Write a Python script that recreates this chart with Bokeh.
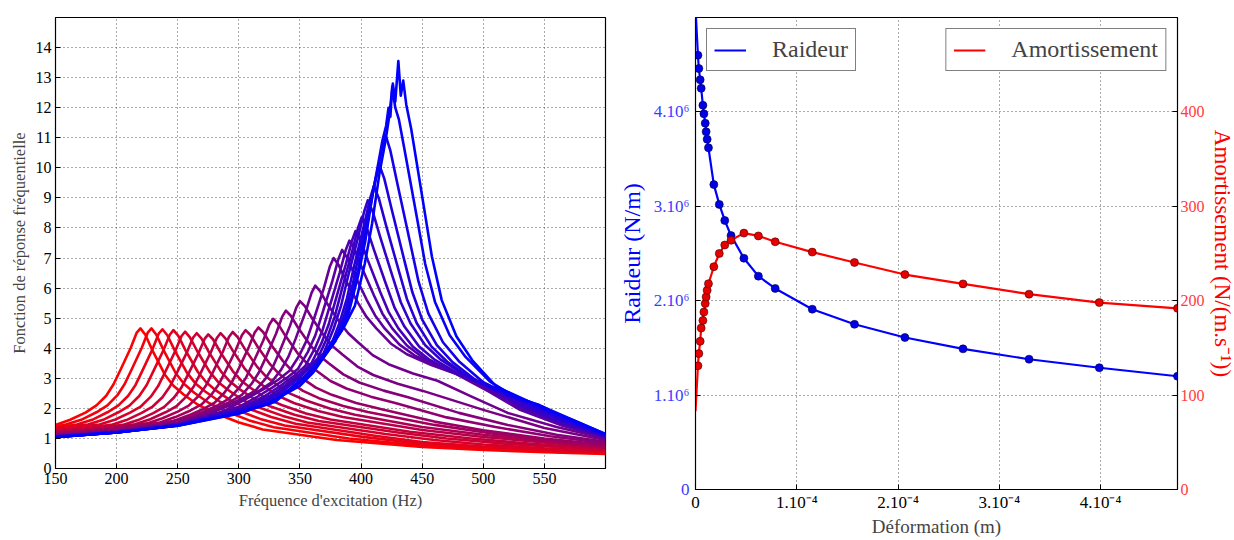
from bokeh.plotting import figure
from bokeh.models import Range1d, FixedTicker, LinearAxis, Legend, LegendItem
from bokeh.layouts import row
from bokeh.embed import file_html
from bokeh.resources import INLINE

# ---------------- Left chart : frequency response curves (red -> blue) ----------------
curve01_hz = [150, 162, 174.5, 183.5, 191.5, 197.5, 203.5, 211.5, 216.5, 219.5, 223.5, 229.5, 239.5, 246.5, 254.5, 266.5, 279.5, 299.5, 319.5, 380, 450, 500, 550, 600]
curve01_frf = [1.45, 1.62, 1.86, 2.10, 2.42, 2.80, 3.31, 4.01, 4.52, 4.66, 4.45, 3.91, 3.12, 2.75, 2.47, 2.12, 1.86, 1.54, 1.30, 0.95, 0.72, 0.62, 0.54, 0.48]
curve02_hz = [150, 158.5, 171, 183.5, 192.5, 200.5, 206.5, 212.5, 220.5, 225.5, 228.5, 232.5, 238.5, 248.5, 255.5, 263.5, 275.5, 288.5, 308.5, 328.5, 390, 450, 500, 550, 600]
curve02_frf = [1.40, 1.46, 1.62, 1.87, 2.10, 2.43, 2.80, 3.31, 4.01, 4.52, 4.66, 4.45, 3.93, 3.16, 2.80, 2.52, 2.18, 1.92, 1.60, 1.37, 1.0, 0.76, 0.65, 0.57, 0.51]
curve03_hz = [150, 167.5, 180, 192.5, 201.5, 209.5, 215.5, 221.5, 229.5, 234.5, 237.5, 241.5, 247.5, 257.5, 264.5, 272.5, 284.5, 297.5, 317.5, 337.5, 400, 450, 500, 550, 600]
curve03_frf = [1.36, 1.46, 1.62, 1.87, 2.10, 2.42, 2.78, 3.29, 3.98, 4.49, 4.63, 4.43, 3.93, 3.19, 2.83, 2.56, 2.22, 1.96, 1.65, 1.43, 1.06, 0.82, 0.69, 0.60, 0.54]
curve04_hz = [150, 176.5, 189, 201.5, 210.5, 218.5, 224.5, 230.5, 238.5, 243.5, 246.5, 250.5, 256.5, 266.5, 273.5, 281.5, 293.5, 306.5, 326.5, 346.5, 410, 450, 500, 550, 600]
curve04_frf = [1.33, 1.46, 1.62, 1.87, 2.09, 2.41, 2.77, 3.27, 3.95, 4.45, 4.60, 4.41, 3.92, 3.21, 2.86, 2.59, 2.26, 2.01, 1.71, 1.49, 1.1, 0.88, 0.73, 0.63, 0.56]
curve05_hz = [150, 186, 198.5, 211, 220, 228, 234, 240, 248, 253, 256, 260, 266, 276, 283, 291, 303, 316, 336, 356, 420, 460, 500, 550, 600]
curve05_frf = [1.30, 1.46, 1.62, 1.86, 2.07, 2.39, 2.74, 3.23, 3.91, 4.40, 4.55, 4.36, 3.90, 3.22, 2.88, 2.62, 2.28, 2.04, 1.75, 1.53, 1.15, 0.95, 0.80, 0.67, 0.59]
curve06_hz = [150, 170, 195.5, 208, 220.5, 229.5, 237.5, 243.5, 249.5, 257.5, 262.5, 265.5, 269.5, 275.5, 285.5, 292.5, 300.5, 312.5, 325.5, 345.5, 365.5, 430, 470, 520, 600]
curve06_frf = [1.27, 1.33, 1.45, 1.61, 1.85, 2.06, 2.37, 2.72, 3.20, 3.86, 4.35, 4.50, 4.32, 3.87, 3.22, 2.90, 2.64, 2.31, 2.07, 1.79, 1.58, 1.2, 1.0, 0.82, 0.62]
curve07_hz = [150, 180, 205, 217.5, 230, 239, 247, 253, 259, 267, 272, 275, 279, 285, 295, 302, 310, 322, 335, 355, 375, 440, 490, 540, 600]
curve07_frf = [1.24, 1.33, 1.45, 1.61, 1.84, 2.05, 2.36, 2.69, 3.17, 3.83, 4.31, 4.46, 4.29, 3.86, 3.24, 2.92, 2.67, 2.34, 2.11, 1.83, 1.63, 1.22, 1.0, 0.82, 0.65]
curve08_hz = [150, 185, 215, 227.5, 240, 249, 257, 263, 269, 277, 282, 285, 289, 295, 305, 312, 320, 332, 345, 365, 385, 450, 500, 550, 600]
curve08_frf = [1.21, 1.32, 1.47, 1.64, 1.87, 2.07, 2.39, 2.72, 3.20, 3.86, 4.34, 4.50, 4.33, 3.92, 3.31, 2.99, 2.75, 2.42, 2.18, 1.91, 1.71, 1.28, 1.05, 0.87, 0.68]
curve09_hz = [150, 190, 225, 237.5, 250, 259, 267, 273, 279, 287, 292, 295, 299, 305, 315, 322, 330, 342, 355, 375, 395, 450, 500, 550, 600]
curve09_frf = [1.18, 1.31, 1.50, 1.67, 1.89, 2.09, 2.41, 2.75, 3.22, 3.89, 4.38, 4.54, 4.37, 3.97, 3.38, 3.07, 2.82, 2.49, 2.26, 1.99, 1.79, 1.38, 1.12, 0.92, 0.71]
curve10_hz = [150, 195, 235.5, 248, 260.5, 269.5, 277.5, 283.5, 289.5, 297.5, 302.5, 305.5, 309.5, 315.5, 325.5, 332.5, 340.5, 352.5, 365.5, 385.5, 405.5, 460, 510, 555, 600]
curve10_frf = [1.16, 1.31, 1.53, 1.71, 1.93, 2.13, 2.45, 2.79, 3.27, 3.94, 4.43, 4.60, 4.44, 4.04, 3.47, 3.16, 2.91, 2.58, 2.34, 2.08, 1.88, 1.45, 1.15, 0.93, 0.75]
curve11_hz = [150, 200, 246, 258.5, 271, 280, 288, 294, 300, 308, 313, 316, 320, 326, 336, 343, 351, 363, 376, 396, 416, 460, 500, 550, 600]
curve11_frf = [1.14, 1.31, 1.57, 1.76, 1.98, 2.18, 2.51, 2.85, 3.33, 4.02, 4.52, 4.69, 4.53, 4.14, 3.58, 3.27, 3.02, 2.69, 2.45, 2.18, 1.98, 1.56, 1.27, 1.0, 0.79]
curve12_hz = [150, 200, 230, 258, 270.5, 283, 292, 300, 306, 312, 320, 325, 328, 332, 338, 348, 355, 363, 375, 388, 408, 428, 470, 510, 555, 600]
curve12_frf = [1.12, 1.28, 1.44, 1.68, 1.88, 2.11, 2.32, 2.67, 3.03, 3.54, 4.26, 4.79, 4.98, 4.81, 4.42, 3.84, 3.53, 3.27, 2.91, 2.66, 2.39, 2.18, 1.70, 1.38, 1.07, 0.84]
curve13_hz = [150, 200, 250, 268.5, 281, 293.5, 302.5, 310.5, 316.5, 322.5, 330.5, 335.5, 338.5, 342.5, 348.5, 358.5, 365.5, 373.5, 385.5, 398.5, 418.5, 438.5, 480, 520, 560, 600]
curve13_frf = [1.10, 1.26, 1.54, 1.79, 1.99, 2.23, 2.45, 2.82, 3.20, 3.73, 4.49, 5.05, 5.25, 5.08, 4.68, 4.10, 3.77, 3.50, 3.13, 2.86, 2.59, 2.37, 1.85, 1.45, 1.12, 0.89]
curve14_hz = [150, 200, 250, 265, 280, 292.5, 305, 314, 322, 328, 334, 342, 347, 350, 354, 360, 370, 377, 385, 397, 410, 430, 450, 500, 550, 600]
curve14_frf = [1.09, 1.24, 1.51, 1.69, 1.91, 2.13, 2.38, 2.61, 3.00, 3.39, 3.95, 4.76, 5.35, 5.57, 5.40, 4.99, 4.40, 4.06, 3.78, 3.39, 3.11, 2.82, 2.59, 1.95, 1.35, 0.95]
curve15_hz = [150, 200, 250, 272, 292.5, 305, 317.5, 326.5, 334.5, 340.5, 346.5, 354.5, 359.5, 362.5, 366.5, 372.5, 382.5, 389.5, 397.5, 409.5, 422.5, 442.5, 462.5, 490, 520, 560, 600]
curve15_frf = [1.08, 1.22, 1.48, 1.76, 2.10, 2.34, 2.61, 2.86, 3.28, 3.71, 4.32, 5.20, 5.84, 6.08, 5.90, 5.47, 4.86, 4.50, 4.20, 3.77, 3.47, 3.16, 2.92, 2.40, 1.85, 1.38, 1.00]
curve16_hz = [150, 200, 250, 285, 307.5, 320, 332.5, 341.5, 349.5, 355.5, 361.5, 369.5, 374.5, 377.5, 381.5, 387.5, 397.5, 404.5, 412.5, 424.5, 437.5, 457.5, 477.5, 505, 530, 565, 600]
curve16_frf = [1.07, 1.21, 1.47, 1.85, 2.35, 2.63, 2.96, 3.25, 3.76, 4.26, 4.98, 5.99, 6.72, 7.00, 6.78, 6.26, 5.51, 5.04, 4.66, 4.15, 3.80, 3.44, 3.15, 2.55, 1.95, 1.42, 1.02]
curve17_hz = [150, 200, 250, 300, 314.5, 327, 339.5, 348.5, 356.5, 362.5, 368.5, 376.5, 381.5, 384.5, 388.5, 394.5, 404.5, 411.5, 419.5, 431.5, 444.5, 464.5, 484.5, 507, 530, 562, 600]
curve17_frf = [1.07, 1.21, 1.465, 2.05, 2.37, 2.68, 3.02, 3.32, 3.88, 4.42, 5.18, 6.23, 6.97, 7.27, 7.02, 6.46, 5.62, 5.09, 4.65, 4.12, 3.74, 3.36, 3.06, 2.52, 1.98, 1.49, 1.03]
curve18_hz = [150, 200, 250, 300, 320.5, 333, 345.5, 354.5, 362.5, 368.5, 374.5, 382.5, 387.5, 390.5, 394.5, 400.5, 410.5, 417.5, 425.5, 437.5, 450.5, 470.5, 490.5, 510, 530, 562, 600]
curve18_frf = [1.06, 1.21, 1.46, 2.0, 2.39, 2.72, 3.09, 3.42, 4.02, 4.60, 5.42, 6.51, 7.27, 7.58, 7.31, 6.69, 5.76, 5.15, 4.66, 4.09, 3.69, 3.28, 2.97, 2.50, 2.01, 1.51, 1.04]
curve19_hz = [150, 200, 250, 300, 325.5, 338, 350.5, 359.5, 367.5, 373.5, 379.5, 387.5, 392.5, 395.5, 399.5, 405.5, 415.5, 422.5, 430.5, 442.5, 455.5, 475.5, 495.5, 514, 532, 563, 600]
curve19_frf = [1.06, 1.21, 1.455, 1.97, 2.42, 2.77, 3.16, 3.51, 4.16, 4.79, 5.65, 6.79, 7.57, 7.90, 7.60, 6.93, 5.89, 5.21, 4.66, 4.05, 3.63, 3.19, 2.86, 2.45, 2.03, 1.53, 1.05]
curve20_hz = [150, 200, 250, 300, 330.5, 343, 355.5, 364.5, 372.5, 378.5, 384.5, 392.5, 397.5, 400.5, 404.5, 410.5, 420.5, 427.5, 435.5, 447.5, 460.5, 480.5, 500.5, 518, 535, 565, 600]
curve20_frf = [1.06, 1.21, 1.45, 1.95, 2.47, 2.84, 3.28, 3.66, 4.37, 5.06, 5.99, 7.19, 8.0, 8.35, 8.02, 7.28, 6.12, 5.34, 4.72, 4.06, 3.61, 3.13, 2.80, 2.40, 2.02, 1.54, 1.06]
curve21_hz = [150, 200, 250, 300, 318, 335.5, 348, 360.5, 369.5, 377.5, 383.5, 389.5, 397.5, 402.5, 405.5, 409.5, 415.5, 425.5, 432.5, 440.5, 452.5, 465.5, 485.5, 505.5, 521, 537, 566, 600]
curve21_frf = [1.05, 1.20, 1.445, 1.93, 2.20, 2.55, 2.96, 3.44, 3.85, 4.64, 5.39, 6.41, 7.68, 8.54, 8.92, 8.55, 7.72, 6.42, 5.53, 4.82, 4.10, 3.61, 3.08, 2.75, 2.40, 2.05, 1.56, 1.08]
curve22_hz = [150, 200, 250, 300, 320, 340.5, 353, 365.5, 374.5, 382.5, 388.5, 394.5, 402.5, 407.5, 410.5, 414.5, 420.5, 430.5, 437.5, 445.5, 457.5, 470.5, 490.5, 510.5, 540, 567, 600]
curve22_frf = [1.05, 1.20, 1.44, 1.90, 2.18, 2.60, 3.03, 3.55, 4.00, 4.86, 5.67, 6.77, 8.11, 8.99, 9.40, 8.99, 8.08, 6.63, 5.64, 4.84, 4.06, 3.55, 2.97, 2.66, 2.07, 1.58, 1.10]
curve23_hz = [150, 200, 250, 300, 323, 345, 357.5, 370, 379, 387, 393, 399, 407, 412, 415, 419, 425, 435, 442, 450, 462, 475, 495, 515, 543, 568, 600]
curve23_frf = [1.05, 1.20, 1.435, 1.88, 2.16, 2.69, 3.13, 3.74, 4.23, 5.19, 6.09, 7.29, 8.72, 9.66, 10.1, 9.64, 8.63, 6.99, 5.86, 4.95, 4.10, 3.53, 2.90, 2.52, 2.09, 1.60, 1.11]
curve24_hz = [150, 200, 250, 300, 326, 350, 362.5, 375, 384, 392, 398, 404, 412, 417, 420, 424, 430, 440, 447, 455, 467, 480, 500, 520, 546, 570, 600]
curve24_frf = [1.05, 1.20, 1.43, 1.86, 2.16, 2.85, 3.38, 4.03, 4.58, 5.67, 6.68, 8.03, 9.60, 10.61, 11.1, 10.57, 9.42, 7.54, 6.22, 5.16, 4.20, 3.57, 2.87, 2.45, 2.11, 1.62, 1.13]
curve25_hz = [150, 200, 250, 300, 330, 355.5, 368, 380.5, 389.5, 397.5, 403.5, 409.5, 417.5, 420.5, 422.5, 424, 425.5, 428, 431, 435.5, 445.5, 452.5, 460.5, 472.5, 485.5, 505.5, 525.5, 549, 572, 600]
curve25_frf = [1.04, 1.20, 1.425, 1.84, 2.22, 3.11, 3.70, 4.48, 5.12, 6.39, 7.57, 9.13, 10.91, 11.4, 12.0, 11.7, 12.7, 12.0, 11.6, 10.62, 8.39, 6.80, 5.54, 4.43, 3.71, 2.89, 2.40, 2.05, 1.64, 1.14]
curve26_hz = [150, 200, 250, 300, 325, 350, 361, 373, 386, 395, 403, 409, 415, 420, 423, 426, 428, 430.5, 432.5, 434.5, 437, 441, 451, 458, 466, 478, 491, 511, 531, 552, 575, 600]
curve26_frf = [1.04, 1.20, 1.42, 1.82, 2.18, 2.75, 3.2, 3.9, 4.7, 5.42, 6.8, 8.14, 9.8, 10.9, 11.7, 12.8, 12.2, 13.55, 12.4, 12.9, 12.1, 11.3, 8.8, 7.04, 5.6, 4.40, 3.6, 2.71, 2.35, 1.95, 1.58, 1.15]

frf_x_ticks = [150, 200, 250, 300, 350, 400, 450, 500, 550]
frf_y_ticks = [0, 1, 2, 3, 4, 5, 6, 7, 8, 9, 10, 11, 12, 13, 14]

# ---------------- Right chart : stiffness & damping vs deformation ----------------
deformation = [0.0, 2.4e-6, 3.3e-6, 4.6e-6, 5.6e-6, 7.3e-6, 8.3e-6, 9.6e-6, 1.05e-5, 1.15e-5, 1.28e-5,
               1.81e-5, 2.35e-5, 2.89e-5, 3.51e-5, 4.78e-5, 6.21e-5, 7.87e-5, 1.153e-4, 1.570e-4,
               2.068e-4, 2.642e-4, 3.294e-4, 3.988e-4, 4.76e-4]
raideur = [5.1e6, 4.60e6, 4.46e6, 4.34e6, 4.25e6, 4.07e6, 3.98e6, 3.88e6, 3.79e6, 3.71e6, 3.62e6,
           3.23e6, 3.02e6, 2.85e6, 2.69e6, 2.45e6, 2.26e6, 2.13e6, 1.91e6, 1.75e6,
           1.61e6, 1.49e6, 1.38e6, 1.29e6, 1.20e6]
amortissement = [83, 131, 144, 157, 171, 179, 188, 197, 204, 211, 218,
                 236, 250, 259, 264, 271.6, 268.6, 262.4, 251.5, 240.5,
                 227.7, 217.8, 206.9, 198, 191.9]

def_ticks = [0, 1e-4, 2e-4, 3e-4, 4e-4]
def_tick_labels = ["0", "1.10\u207b\u2074", "2.10\u207b\u2074", "3.10\u207b\u2074", "4.10\u207b\u2074"]
raideur_ticks = [0, 1e6, 2e6, 3e6, 4e6]
raideur_tick_labels = ["0", "1.10\u2076", "2.10\u2076", "3.10\u2076", "4.10\u2076"]
amort_ticks = [0, 100, 200, 300, 400]

FONT = "Liberation Serif"

curves = [
    (curve01_hz, curve01_frf), (curve02_hz, curve02_frf), (curve03_hz, curve03_frf),
    (curve04_hz, curve04_frf), (curve05_hz, curve05_frf), (curve06_hz, curve06_frf),
    (curve07_hz, curve07_frf), (curve08_hz, curve08_frf), (curve09_hz, curve09_frf),
    (curve10_hz, curve10_frf), (curve11_hz, curve11_frf), (curve12_hz, curve12_frf),
    (curve13_hz, curve13_frf), (curve14_hz, curve14_frf), (curve15_hz, curve15_frf),
    (curve16_hz, curve16_frf), (curve17_hz, curve17_frf), (curve18_hz, curve18_frf),
    (curve19_hz, curve19_frf), (curve20_hz, curve20_frf), (curve21_hz, curve21_frf),
    (curve22_hz, curve22_frf), (curve23_hz, curve23_frf), (curve24_hz, curve24_frf),
    (curve25_hz, curve25_frf), (curve26_hz, curve26_frf),
]


def style_axis(ax, size, color="black"):
    ax.major_label_text_font = FONT
    ax.major_label_text_font_size = size
    ax.major_label_text_color = color
    ax.axis_label_text_font = FONT
    ax.axis_label_text_font_style = "normal"
    ax.axis_line_color = "black"
    ax.major_tick_in = 5
    ax.major_tick_out = 0
    ax.major_tick_line_color = "black"
    ax.minor_tick_line_color = None


# ----- left figure -----
p1 = figure(output_backend="svg", toolbar_location=None,
            frame_width=550, frame_height=451,
            x_range=Range1d(150, 600), y_range=Range1d(0, 15),
            min_border_left=55, min_border_right=10, min_border_top=16, min_border_bottom=58)
n = len(curves)
for i, (hz, frf) in enumerate(curves):
    t = i / (n - 1)
    col = "#%02x00%02x" % (round(255 * (1 - t)), round(255 * t))
    p1.line(hz, frf, line_color=col, line_width=2.6, line_join="round")

p1.xaxis.ticker = FixedTicker(ticks=frf_x_ticks)
p1.yaxis.ticker = FixedTicker(ticks=frf_y_ticks)
p1.xaxis.axis_label = "Fréquence d'excitation (Hz)"
p1.yaxis.axis_label = "Fonction de réponse fréquentielle"
for ax in (p1.xaxis[0], p1.yaxis[0]):
    style_axis(ax, "16px")
    ax.axis_label_text_font_size = "16.5px"
    ax.major_label_standoff = 4
    ax.axis_label_standoff = 4
p1.grid.grid_line_color = "#555555"
p1.grid.grid_line_dash = "1 3"
p1.grid.grid_line_width = 1
p1.outline_line_color = "black"
p1.outline_line_width = 1.2
p1.outline_line_alpha = 1

# ----- right figure -----
p2 = figure(output_backend="svg", toolbar_location=None,
            frame_width=482, frame_height=472,
            x_range=Range1d(0, deformation[-1]), y_range=Range1d(0, 5e6),
            min_border_left=76, min_border_right=48, min_border_top=17, min_border_bottom=45)
p2.extra_y_ranges = {"amort": Range1d(0, 500)}

blue_line = p2.line(deformation, raideur, line_color="#0000ff", line_width=2.2)
p2.scatter(deformation[1:], raideur[1:], size=8, fill_color="#0000e6",
           line_color="#000044", line_width=0.6)
red_line = p2.line(deformation, amortissement, line_color="#ff0000", line_width=2.2,
                   y_range_name="amort")
p2.scatter(deformation[1:], amortissement[1:], size=8, fill_color="#e60000",
           line_color="#440000", line_width=0.6, y_range_name="amort")

p2.xaxis.ticker = FixedTicker(ticks=def_ticks)
p2.xaxis.major_label_overrides = dict(zip(def_ticks, def_tick_labels))
p2.xaxis.axis_label = "Déformation (m)"
style_axis(p2.xaxis[0], "17px")
p2.xaxis.axis_label_text_font_size = "19px"
p2.xaxis.major_label_standoff = 3
p2.xaxis.axis_label_standoff = 1

p2.yaxis.ticker = FixedTicker(ticks=raideur_ticks)
p2.yaxis.major_label_overrides = dict(zip(raideur_ticks, raideur_tick_labels))
p2.yaxis.axis_label = "Raideur (N/m)"
style_axis(p2.yaxis[0], "17px", "#3b3bff")
p2.yaxis.axis_label_text_font_size = "24px"
p2.yaxis.axis_label_text_color = "#0000ff"
p2.yaxis.major_label_standoff = 6
p2.yaxis.axis_label_standoff = 6

right_ax = LinearAxis(y_range_name="amort", ticker=FixedTicker(ticks=amort_ticks),
                      axis_label="Amortissement (N/(m.s\u207b\u00b9))")
style_axis(right_ax, "16px", "#ff3b3b")
right_ax.axis_label_text_font_size = "23px"
right_ax.axis_label_text_color = "#ff0000"
right_ax.major_label_standoff = 3
right_ax.axis_label_standoff = 2
p2.add_layout(right_ax, "right")

p2.grid.grid_line_color = "#555555"
p2.grid.grid_line_dash = "1 3"
p2.outline_line_color = "black"
p2.outline_line_width = 1.2

for item, loc in ((LegendItem(label="Raideur", renderers=[blue_line]), "top_left"),
                  (LegendItem(label="Amortissement", renderers=[red_line]), "top_right")):
    leg = Legend(items=[item], location=loc)
    leg.label_text_font = FONT
    leg.label_text_font_size = "24px"
    leg.border_line_color = "black"
    leg.border_line_width = 1.5
    leg.padding = 7
    leg.margin = 11
    leg.glyph_width = 32
    leg.label_standoff = 26
    leg.background_fill_alpha = 1
    p2.add_layout(leg, "center")

layout = row(p1, p2)
open("out.html", "w").write(file_html(layout, INLINE))
